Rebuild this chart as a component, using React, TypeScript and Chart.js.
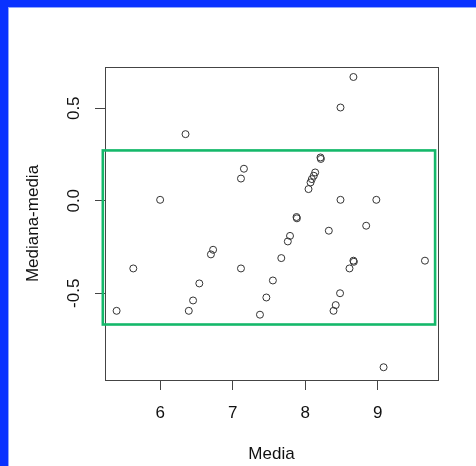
import React, { useEffect, useRef } from "react";
import { Chart, registerables } from "chart.js";

Chart.register(...registerables);

const mediaValues = [
  5.4, 5.63, 6.0, 6.35, 6.395, 6.454, 6.54, 6.7, 6.73, 7.114, 7.155, 7.114,
  7.376, 7.464, 7.554, 7.67, 7.76, 7.79, 7.88, 7.885, 8.045, 8.073, 8.091,
  8.118, 8.137, 8.21, 8.215, 8.325, 8.39, 8.42, 8.48, 8.486, 8.486, 8.61,
  8.664, 8.664, 8.67, 8.84, 8.98, 9.08, 9.65,
];
const diffValues = [
  -0.595, -0.366, 0.005, 0.36, -0.595, -0.539, -0.447, -0.29, -0.265, 0.12,
  0.173, -0.366, -0.616, -0.523, -0.431, -0.31, -0.22, -0.19, -0.088, -0.095,
  0.063, 0.099, 0.117, 0.135, 0.153, 0.234, 0.226, -0.162, -0.595, -0.564,
  -0.5, 0.504, 0.005, -0.366, 0.669, -0.324, -0.33, -0.135, 0.005, -0.9,
  -0.324,
];
const xTicks = [6, 7, 8, 9];
const yTicks = [-0.5, 0, 0.5];
const yTickLabels = ["-0.5", "0.0", "0.5"];
const xRange = [5.24, 9.83];
const yRange = [-0.969, 0.723];
// highlighted region: [xMin, xMax], [yMin, yMax]
const boxX = [5.21, 9.79];
const boxY = [-0.669, 0.272];
const xTitle = "Media";
const yTitle = "Mediana-media";

const FONT = { family: "'Liberation Sans', Arial, sans-serif", size: 17 };
const TEXT = "#111";

export default function App() {
  const ref = useRef<HTMLCanvasElement | null>(null);
  useEffect(() => {
    const canvas = ref.current;
    if (!canvas) return;
    const overlay = {
      id: "overlay",
      afterDraw(chart: any) {
        const { ctx, chartArea, scales } = chart;
        const xs = scales.x;
        const ys = scales.y;
        ctx.save();
        // plot frame
        ctx.strokeStyle = "#444";
        ctx.lineWidth = 1;
        ctx.strokeRect(
          Math.round(chartArea.left) + 0.5,
          Math.round(chartArea.top) + 0.5,
          Math.round(chartArea.right - chartArea.left),
          Math.round(chartArea.bottom - chartArea.top)
        );
        // green highlight rectangle
        const gx1 = xs.getPixelForValue(boxX[0]);
        const gx2 = xs.getPixelForValue(boxX[1]);
        const gy1 = ys.getPixelForValue(boxY[1]);
        const gy2 = ys.getPixelForValue(boxY[0]);
        ctx.strokeStyle = "#14b86a";
        ctx.lineWidth = 2.6;
        ctx.strokeRect(gx1, gy1, gx2 - gx1, gy2 - gy1);
        // y tick labels (rotated, R style)
        ctx.fillStyle = TEXT;
        ctx.font = `${FONT.size}px ${FONT.family}`;
        ctx.textAlign = "center";
        ctx.textBaseline = "middle";
        yTicks.forEach((v, i) => {
          const py = ys.getPixelForValue(v);
          ctx.save();
          ctx.translate(74, py);
          ctx.rotate(-Math.PI / 2);
          ctx.fillText(yTickLabels[i], 0, 0);
          ctx.restore();
        });
        ctx.restore();
      },
    };
    const chart = new Chart(canvas, {
      type: "scatter",
      data: {
        datasets: [
          {
            data: mediaValues.map((x, i) => ({ x, y: diffValues[i] })),
            pointRadius: 3.5,
            pointBorderWidth: 1,
            pointBorderColor: "#333",
            pointBackgroundColor: "rgba(0,0,0,0)",
            pointHoverRadius: 3.5,
          },
        ],
      },
      options: {
        animation: false,
        responsive: false,
        maintainAspectRatio: false,
        layout: { padding: { left: 0, right: 38, top: 67, bottom: 0 } },
        plugins: { legend: { display: false }, tooltip: { enabled: false } },
        events: [],
        scales: {
          x: {
            type: "linear",
            position: "bottom",
            min: xRange[0],
            max: xRange[1],
            afterBuildTicks: (s: any) => {
              s.ticks = xTicks.map((v) => ({ value: v }));
            },
            afterFit: (s: any) => {
              s.height = 86;
            },
            border: { display: false },
            grid: {
              drawOnChartArea: false,
              drawTicks: true,
              tickLength: 10,
              color: "#444",
              lineWidth: 1,
            },
            ticks: {
              font: FONT,
              color: TEXT,
              padding: 13,
              maxRotation: 0,
              autoSkip: false,
              callback: (v: any) => String(v),
            },
            title: {
              display: true,
              text: xTitle,
              font: FONT,
              color: TEXT,
              padding: { top: 0, bottom: 1 },
            },
          },
          y: {
            type: "linear",
            position: "left",
            min: yRange[0],
            max: yRange[1],
            afterBuildTicks: (s: any) => {
              s.ticks = yTicks.map((v) => ({ value: v }));
            },
            afterFit: (s: any) => {
              s.width = 105;
            },
            border: { display: false },
            grid: {
              drawOnChartArea: false,
              drawTicks: true,
              tickLength: 10,
              color: "#444",
              lineWidth: 1,
            },
            ticks: { display: false },
            title: {
              display: true,
              text: yTitle,
              font: FONT,
              color: TEXT,
              padding: { top: 23, bottom: 0 },
            },
          },
        },
      },
      plugins: [overlay],
    });
    return () => chart.destroy();
  }, []);

  return (
    <div
      style={{
        position: "absolute",
        left: 0,
        top: 0,
        width: 476,
        height: 466,
        background: "#0a32ff",
        overflow: "hidden",
      }}
    >
      <div
        style={{
          position: "absolute",
          left: 8,
          top: 7,
          width: 468,
          height: 459,
          background: "#fff",
          borderLeft: "1px solid #8fa6ff",
          borderTop: "1px solid #8fa6ff",
          boxSizing: "border-box",
        }}
      />
      <canvas
        ref={ref}
        width={476}
        height={466}
        style={{ position: "absolute", left: 0, top: 0, width: 476, height: 466 }}
      />
    </div>
  );
}
